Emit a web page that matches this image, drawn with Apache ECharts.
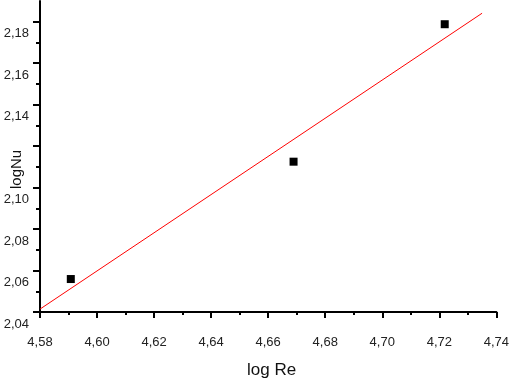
<!DOCTYPE html>
<html><head><meta charset="utf-8">
<script src="https://cdn.jsdelivr.net/npm/echarts@6/dist/echarts.min.js"></script>
<style>html,body{margin:0;padding:0;background:#fff}#c{width:512px;height:382px}</style>
</head><body><div id="c"></div>
<script>
var xTitle = 'log Re';
var yTitle = 'logNu';
var yTicks = [2.04, 2.06, 2.08, 2.10, 2.12, 2.14, 2.16, 2.18];
var yLabels = [2.04, 2.06, 2.08, 2.10, 2.14, 2.16, 2.18];
var pointsX = [4.5908, 4.6689, 4.7219];
var pointsY = [2.0559, 2.1125, 2.1788];
var fitX = [4.58, 4.735];
var fitY = [2.0414, 2.1841];

var chart = echarts.init(document.getElementById('c'));
function fmt(v){ return (Math.round(v*100)/100).toFixed(2).replace('.', ','); }
chart.setOption({
  animation: false,
  grid: {left: 40, right: 13, top: 1, bottom: 70, containLabel: false},
  xAxis: {
    type: 'value', min: 4.58, max: 4.74, interval: 0.02,
    axisLine: {show: true, lineStyle: {color: '#000', width: 2}},
    axisTick: {show: true, length: 6, lineStyle: {color: '#000', width: 2}},
    minorTick: {show: true, splitNumber: 2, length: 3, lineStyle: {color: '#000', width: 2}},
    splitLine: {show: false},
    axisLabel: {formatter: fmt, fontFamily: 'Liberation Sans', fontSize: 13, color: '#222', margin: 24}
  },
  yAxis: {
    type: 'value', min: 2.04, max: 2.19, interval: 0.02,
    axisLine: {show: true, lineStyle: {color: '#000', width: 2}},
    axisTick: {show: true, length: 7, customValues: yTicks, lineStyle: {color: '#000', width: 2}},
    minorTick: {show: true, splitNumber: 2, length: 4, lineStyle: {color: '#000', width: 2}},
    splitLine: {show: false},
    axisLabel: {formatter: fmt, customValues: yLabels, fontFamily: 'Liberation Sans', fontSize: 13, color: '#222', margin: 11,
      verticalAlign: 'top', lineHeight: 24}
  },
  graphic: [
    {type: 'text', x: 247, y: 362, style: {text: xTitle, font: '17px "Liberation Sans"', fill: '#111'}},
    {type: 'text', rotation: Math.PI/2, x: 9, y: 189, style: {text: yTitle, font: '15px "Liberation Sans"', fill: '#111', textAlign: 'left', textVerticalAlign: 'top'}}
  ],
  series: [
    {type: 'line', data: fitX.map(function(x,i){return [x, fitY[i]];}), symbol: 'none',
      lineStyle: {color: '#ff0000', width: 1}, z: 2},
    {type: 'scatter', data: pointsX.map(function(x,i){return [x, pointsY[i]];}), symbol: 'rect', symbolSize: 8,
      itemStyle: {color: '#000', opacity: 1}, z: 3}
  ]
});
</script></body></html>
